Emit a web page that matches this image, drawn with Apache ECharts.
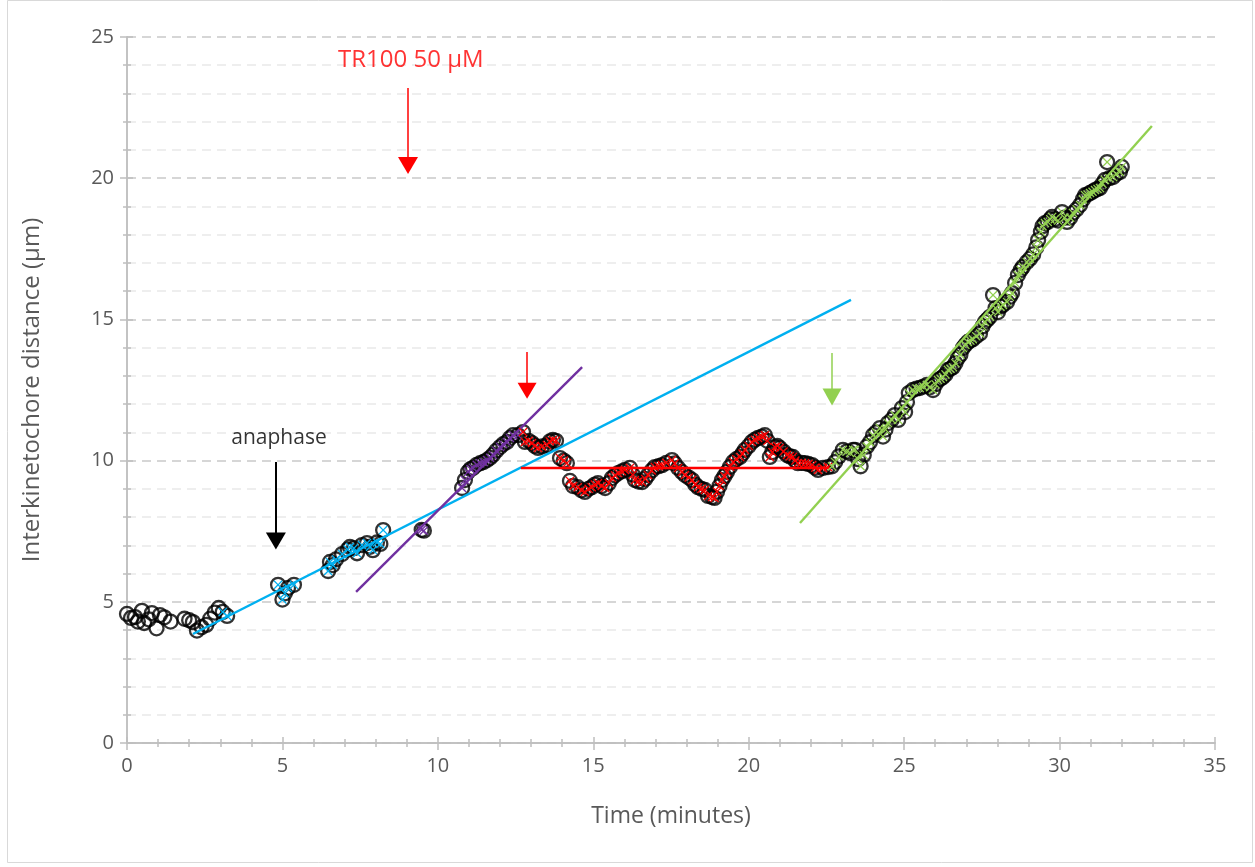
<!DOCTYPE html>
<html>
<head>
<meta charset="utf-8">
<script src="https://cdn.jsdelivr.net/npm/echarts@6/dist/echarts.min.js"></script>
<style>
  html, body { margin: 0; padding: 0; background: #ffffff; }
  #chart { width: 1255px; height: 867px; }
</style>
</head>
<body>
<div id="chart"></div>
<script>
// Interkinetochore distance (µm) versus time (minutes), one pair per frame.
// Before anaphase: circles only.
const beforeAnaphase = [
  [0.00,4.57],[0.13,4.43],[0.26,4.46],[0.35,4.30],[0.48,4.68],[0.55,4.25],[0.70,4.38],
  [0.80,4.60],[0.95,4.06],[1.06,4.53],[1.20,4.45],[1.40,4.30],[1.85,4.40],[2.00,4.35],
  [2.12,4.28],[2.25,3.98],[2.40,4.10],[2.55,4.18],[2.68,4.40],[2.82,4.62],[2.95,4.78]
];
// Anaphase, before drug addition.
const phaseCyan = [
  [3.08,4.64],[3.22,4.50],[4.86,5.60],[5.00,5.08],[5.08,5.30],[5.18,5.49],[5.37,5.60],
  [6.47,6.09],[6.53,6.41],[6.62,6.30],[6.72,6.50],[6.92,6.69],[7.10,6.85],[7.17,6.94],
  [7.30,6.90],[7.40,6.72],[7.56,7.01],[7.72,7.08],[7.82,6.95],[7.91,6.83],[8.04,7.10],
  [8.15,7.05],[8.24,7.54]
];
// After TR100 addition.
const phasePurple = [
  [9.48,7.55],[9.55,7.52],[10.78,9.03],[10.87,9.31],[10.97,9.60],[11.05,9.70],[11.13,9.74],
  [11.25,9.85],[11.36,9.91],[11.47,9.95],[11.58,10.02],[11.68,10.10],[11.77,10.20],
  [11.88,10.35],[12.00,10.48],[12.10,10.58],[12.22,10.66],[12.32,10.80],[12.42,10.90],
  [12.58,10.90]
];
// Stalled separation.
const phaseRed = [
  [12.74,11.01],[12.80,10.66],[12.92,10.70],[13.03,10.62],[13.12,10.52],[13.22,10.45],
  [13.35,10.50],[13.51,10.55],[13.60,10.68],[13.70,10.73],[13.80,10.70],[13.93,10.09],
  [14.05,10.00],[14.15,9.91],[14.25,9.28],[14.35,9.10],[14.50,9.06],[14.62,8.95],
  [14.73,8.89],[14.85,9.00],[14.95,9.06],[15.05,9.15],[15.15,9.20],[15.27,9.10],
  [15.38,9.03],[15.50,9.20],[15.60,9.38],[15.70,9.48],[15.80,9.56],[15.92,9.62],
  [16.02,9.67],[16.18,9.74],[16.27,9.50],[16.34,9.31],[16.45,9.26],[16.57,9.24],
  [16.67,9.35],[16.76,9.49],[16.88,9.65],[16.98,9.77],[17.10,9.80],[17.21,9.84],
  [17.35,9.92],[17.53,10.02],[17.62,9.90],[17.73,9.74],[17.85,9.60],[17.95,9.49],
  [18.07,9.40],[18.18,9.31],[18.28,9.15],[18.37,9.06],[18.48,9.00],[18.59,8.96],
  [18.69,8.75],[18.82,8.71],[18.90,8.68],[18.98,8.90],[19.06,9.10],[19.14,9.31],
  [19.22,9.45],[19.30,9.60],[19.40,9.78],[19.50,9.95],[19.60,10.05],[19.72,10.13],
  [19.80,10.25],[19.88,10.38],[20.00,10.52],[20.10,10.66],[20.20,10.74],[20.30,10.80],
  [20.42,10.85],[20.52,10.90],[20.60,10.70],[20.68,10.13],[20.76,10.30],[20.84,10.48],
  [20.92,10.52],[21.00,10.45],[21.12,10.32],[21.23,10.20],[21.32,10.15],[21.42,10.13],
  [21.50,10.00],[21.58,9.91],[21.70,9.92],[21.81,9.91],[21.92,9.88],[22.04,9.84],
  [22.14,9.75],[22.23,9.67],[22.39,9.74],[22.55,9.77]
];
// Resumed separation.
const phaseGreen = [
  [22.68,9.80],[22.78,9.95],[22.90,10.15],[23.03,10.38],[23.15,10.32],[23.26,10.27],
  [23.36,10.38],[23.42,10.38],[23.52,10.05],[23.60,9.80],[23.70,10.20],[23.80,10.50],
  [23.90,10.65],[24.00,10.90],[24.10,11.00],[24.22,11.15],[24.32,10.85],[24.40,11.10],
  [24.48,11.33],[24.60,11.45],[24.70,11.61],[24.81,11.44],[24.93,11.86],[25.03,11.72],
  [25.09,12.07],[25.15,12.39],[25.28,12.50],[25.40,12.55],[25.50,12.57],[25.62,12.62],
  [25.73,12.68],[25.83,12.60],[25.93,12.50],[26.01,12.70],[26.09,12.85],[26.17,12.90],
  [26.25,12.96],[26.33,13.05],[26.41,13.21],[26.49,13.25],[26.57,13.31],[26.65,13.45],
  [26.73,13.63],[26.81,13.75],[26.89,13.99],[26.97,14.10],[27.05,14.20],[27.13,14.25],
  [27.21,14.30],[27.32,14.40],[27.44,14.50],[27.52,14.75],[27.60,14.91],[27.68,15.00],
  [27.76,15.09],[27.86,15.86],[27.94,15.40],[28.02,15.26],[28.10,15.45],[28.18,15.51],
  [28.31,15.62],[28.40,15.80],[28.47,15.93],[28.57,16.29],[28.66,16.57],[28.75,16.75],
  [28.82,16.86],[28.95,17.03],[29.05,17.15],[29.15,17.30],[29.25,17.55],[29.31,17.81],
  [29.40,18.10],[29.45,18.30],[29.53,18.41],[29.62,18.45],[29.70,18.55],[29.76,18.63],
  [29.85,18.55],[29.95,18.50],[30.08,18.80],[30.16,18.60],[30.24,18.45],[30.34,18.60],
  [30.43,18.77],[30.55,18.90],[30.66,19.05],[30.75,19.25],[30.82,19.40],[30.90,19.42],
  [30.98,19.48],[31.06,19.52],[31.14,19.58],[31.22,19.62],[31.30,19.65],[31.38,19.80],
  [31.46,19.94],[31.53,20.57],[31.60,20.00],[31.72,20.04],[31.82,20.15],[31.94,20.22],
  [32.00,20.40]
];

// Linear fits drawn over each phase (end points).
const fitCyan   = [[2.12,3.86],[23.29,15.69]];
const fitPurple = [[7.37,5.35],[14.64,13.31]];
const fitRed    = [[12.67,9.74],[22.60,9.74]];
const fitGreen  = [[21.65,7.79],[32.97,21.85]];

// Event arrows: [time, tail, centre of the head]
const arrowDrug    = [9.04, 23.19, 20.45];
const arrowStall   = [12.87, 13.85, 12.47];
const arrowResume  = [22.68, 13.81, 12.25];
const arrowAnaphase= [4.79, 9.95, 7.15];

// Text notes
const noteDrug = { name: 'TR100 50 µM', value: [9.13, 24.19] };
const noteAnaphase = { name: 'anaphase', value: [4.89, 10.80] };

const xTicks = { min: 0, max: 35, interval: 5 };
const yTicks = { min: 0, max: 25, interval: 5 };

const FONT = '"Open Sans", "Noto Sans", sans-serif';
const GREY_TEXT = '#595959';
const AXIS_GREY = '#bfbfbf';

const CROSS = 'path://M1,0 L5,4 L9,0 L10,1 L6,5 L10,9 L9,10 L5,6 L1,10 L0,9 L4,5 L0,1 Z';

const allPoints = [].concat(beforeAnaphase, phaseCyan, phasePurple, phaseRed, phaseGreen);

// Each axis is drawn twice so the ticks cross the axis line.
function axisPair(cfg, isX, name) {
  const base = {
    type: 'value',
    min: cfg.min, max: cfg.max, interval: cfg.interval,
    position: isX ? 'bottom' : 'left',
    axisLine: { show: true, onZero: false, lineStyle: { color: AXIS_GREY, width: 1.5 } }
  };
  const outer = Object.assign({}, base, {
    name: name,
    nameLocation: 'middle',
    nameGap: isX ? 62 : 83,
    nameTextStyle: { color: GREY_TEXT, fontSize: isX ? 23 : 24, fontFamily: FONT },
    axisLabel: { color: GREY_TEXT, fontSize: 20, fontFamily: FONT, margin: 13 },
    axisTick: { show: true, length: 7, lineStyle: { color: AXIS_GREY, width: 1.5 } },
    minorTick: { show: true, splitNumber: 5, length: 4, lineStyle: { color: AXIS_GREY, width: 1.5 } },
    splitLine: isX ? { show: false } : { show: true, lineStyle: { color: '#d6d6d6', width: 2, type: [9, 6] } },
    minorSplitLine: isX ? { show: false } : { show: true, lineStyle: { color: '#e9e9e9', width: 1.5, type: [9, 6] } }
  });
  const inner = Object.assign({}, base, {
    axisLabel: { show: false },
    splitLine: { show: false },
    minorSplitLine: { show: false },
    axisTick: { show: true, inside: true, length: 6, lineStyle: { color: AXIS_GREY, width: 1.5 } },
    minorTick: { show: true, splitNumber: 5, length: 4, lineStyle: { color: AXIS_GREY, width: 1.5 } }
  });
  return [outer, inner];
}

const xs = axisPair(xTicks, true, 'Time (minutes)');
const ys = axisPair(yTicks, false, 'Interkinetochore distance (µm)');

function fitLine(data, color) {
  return {
    type: 'line', data: data, symbol: 'none', silent: true, z: 4,
    lineStyle: { color: color, width: 2.4 }
  };
}
function crossSeries(data, color) {
  return {
    type: 'scatter', data: data, symbol: CROSS, symbolSize: 9, z: 5, silent: true,
    itemStyle: { color: color, opacity: 1 }
  };
}
function arrowSeries(a, color, width, head) {
  return {
    type: 'scatter', data: [], silent: true, z: 6,
    markLine: {
      silent: true, animation: false,
      symbol: ['none', 'triangle'],
      symbolSize: head,
      label: { show: false },
      emphasis: { disabled: true },
      lineStyle: { color: color, width: width, type: 'solid' },
      data: [[{ coord: [a[0], a[1]] }, { coord: [a[0], a[2]] }]]
    }
  };
}

const chart = echarts.init(document.getElementById('chart'), null, { renderer: 'canvas' });
chart.setOption({
  animation: false,
  backgroundColor: '#ffffff',
  grid: { left: 127, right: 40, top: 37, bottom: 124, containLabel: false },
  xAxis: xs,
  yAxis: ys,
  graphic: [{
    type: 'rect', silent: true,
    shape: { x: 7.5, y: 0.5, width: 1245, height: 862 },
    style: { fill: 'none', stroke: '#d9d9d9', lineWidth: 1 }
  }],
  series: [
    {
      type: 'scatter', data: allPoints, symbol: 'circle', symbolSize: 14, z: 3, silent: true,
      itemStyle: { color: 'rgba(255,255,255,0)', borderColor: '#000000', borderWidth: 2.3 }
    },
    fitLine(fitCyan, '#00b0f0'),
    fitLine(fitPurple, '#7030a0'),
    fitLine(fitRed, '#ff0000'),
    fitLine(fitGreen, '#92d050'),
    crossSeries(phaseCyan, '#00b0f0'),
    crossSeries(phasePurple, '#7030a0'),
    crossSeries(phaseRed, '#ff0000'),
    crossSeries(phaseGreen, '#92d050'),
    arrowSeries(arrowDrug, '#ff0000', 1.5, [20, 17]),
    arrowSeries(arrowStall, '#ff0000', 1.5, [19, 16]),
    arrowSeries(arrowResume, '#92d050', 1.5, [19, 17]),
    arrowSeries(arrowAnaphase, '#000000', 2, [20, 17]),
    {
      type: 'scatter', silent: true, z: 7, symbolSize: 0,
      data: [
        Object.assign({}, noteDrug, { label: { color: '#ff0000', fontSize: 24 } }),
        Object.assign({}, noteAnaphase, { label: { color: '#000000', fontSize: 21 } })
      ],
      label: {
        show: true, position: 'inside', fontFamily: FONT,
        formatter: function (p) { return p.name; }
      }
    }
  ]
});
</script>
</body>
</html>
